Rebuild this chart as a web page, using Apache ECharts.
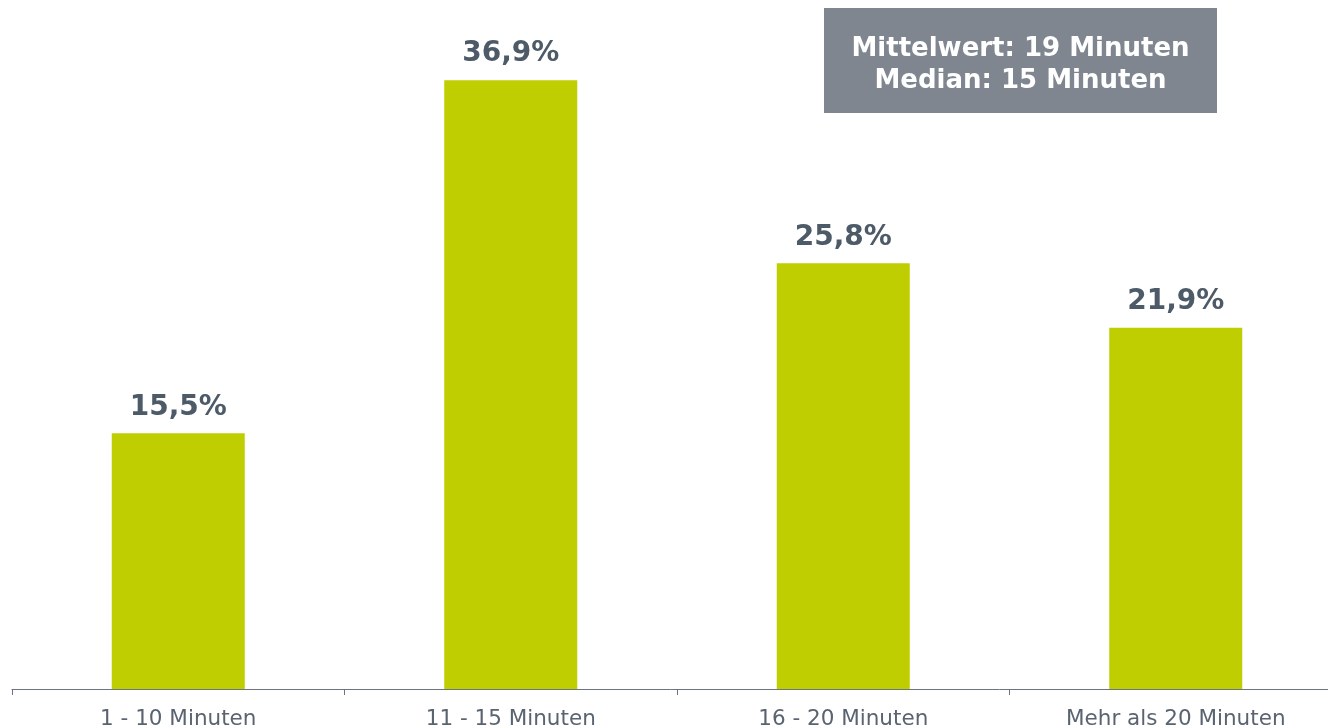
<!DOCTYPE html>
<html><head><meta charset="utf-8">
<script src="https://cdn.jsdelivr.net/npm/echarts@6/dist/echarts.min.js"></script>
<style>html,body{margin:0;padding:0;background:#fff}#c{width:1328px;height:728px}</style>
</head><body><div id="c"></div>
<script>
const categories = ['1 - 10 Minuten', '11 - 15 Minuten', '16 - 20 Minuten', 'Mehr als 20 Minuten'];
const values = [15.5, 36.9, 25.8, 21.9];
const boxLines = ['Mittelwert: 19 Minuten', 'Median: 15 Minuten'];

const chart = echarts.init(document.getElementById('c'));
chart.setOption({
  animation: false,
  grid: { left: 12, width: 1330, top: 29, bottom: 39, containLabel: false, outerBoundsMode: 'none' },
  xAxis: {
    type: 'category', data: categories,
    axisLine: { lineStyle: { color: '#6b7480', width: 1 } },
    axisTick: { show: true, alignWithLabel: false, length: 6, lineStyle: { color: '#6b7480' } },
    axisLabel: { color: '#5a6470', fontFamily: 'DejaVu Sans', fontSize: 21.5, margin: 19, interval: 0 }
  },
  yAxis: { type: 'value', min: 0, max: 40, show: false, splitLine: { show: false } },
  series: [{
    type: 'bar', data: values, barWidth: '40%',
    itemStyle: { color: '#bfce00' },
    label: {
      show: true, position: 'top', distance: 12,
      formatter: p => p.value.toFixed(1).replace('.', ',') + '%',
      color: '#4d5a68', fontFamily: 'DejaVu Sans', fontWeight: 'bold', fontSize: 28
    }
  }],
  graphic: [{
    type: 'group', left: 824, top: 8,
    children: [
      { type: 'rect', shape: { x: 0, y: 0, width: 393, height: 105 }, style: { fill: '#7f8690' } },
      { type: 'text', x: 196.5, y: 57, style: {
        text: boxLines.join('\n'), fill: '#ffffff', font: 'bold 26px "DejaVu Sans"',
        align: 'center', verticalAlign: 'middle', lineHeight: 32 } }
    ]
  }]
});
</script></body></html>
